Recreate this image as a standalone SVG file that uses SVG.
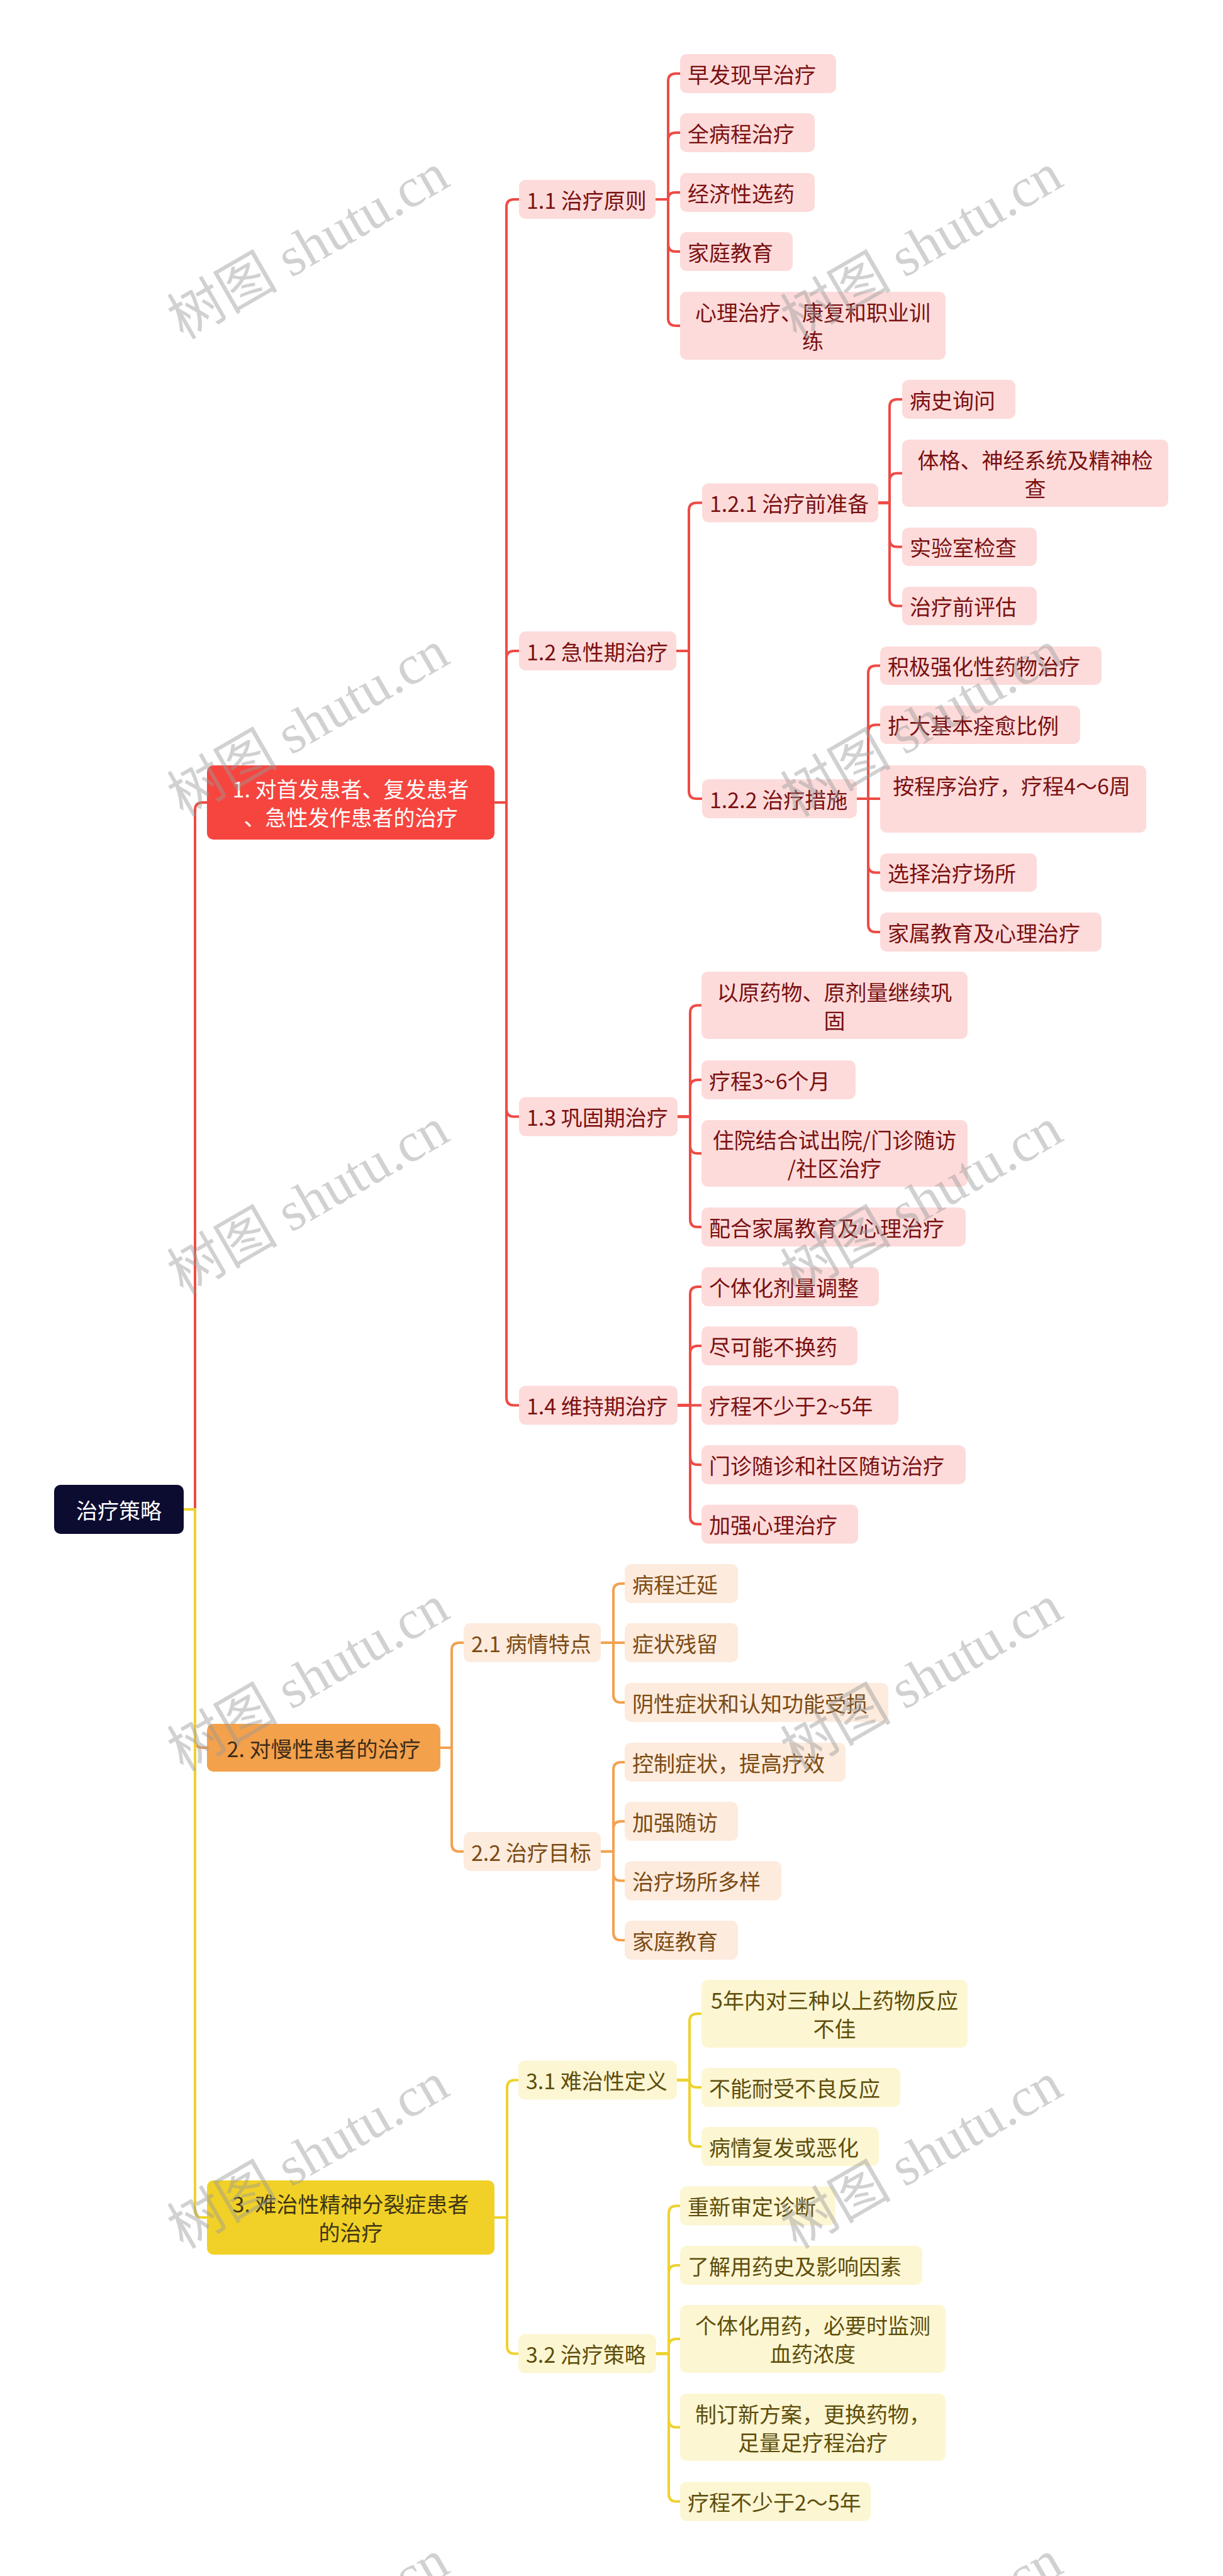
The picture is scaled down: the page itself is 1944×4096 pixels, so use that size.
<svg xmlns="http://www.w3.org/2000/svg" width="1944" height="4096" viewBox="0 0 1944 4096">
<style>
text{font-family:"Noto Sans CJK SC","Noto Sans",sans-serif;font-size:34px;dominant-baseline:central}
.c{text-anchor:middle}
.rl{fill:none;stroke:#EE4B45;stroke-width:4}
.ol{fill:none;stroke:#F3A14F;stroke-width:4}
.yl{fill:none;stroke:#EED22E;stroke-width:4}
.rb{fill:#FDDBDB}
.ob{fill:#FDEBDD}
.yb{fill:#FCF6D3}
.rt{fill:#7A1010}
.ot{fill:#7B4A14}
.yt{fill:#5E4E0C}
.wm{font-family:"Liberation Serif","Noto Sans CJK SC",serif;font-size:88px;fill:#9a9a9a;fill-opacity:0.45;text-anchor:middle}
</style>
<rect width="1944" height="4096" fill="#ffffff"/>
<g id="connectors">
<path class="rl" d="M292 2400H310V1288Q310 1276 322 1276H329"/>
<path class="ol" d="M292 2400H310V2767Q310 2779 322 2779H329"/>
<path class="yl" d="M292 2400H310V3514Q310 3526 322 3526H329"/>
<path class="rl" d="M786 1276H805V329Q805 317 817 317H825"/>
<path class="rl" d="M786 1276H805V1047Q805 1035 817 1035H825"/>
<path class="rl" d="M786 1276H805V1763.5Q805 1775.5 817 1775.5H825"/>
<path class="rl" d="M786 1276H805V2222.5Q805 2234.5 817 2234.5H825"/>
<path class="rl" d="M1042 317H1062V129Q1062 117 1074 117H1081"/>
<path class="rl" d="M1042 317H1062V223Q1062 211 1074 211H1081"/>
<path class="rl" d="M1042 317H1062Q1062 306 1073 306H1081"/>
<path class="rl" d="M1042 317H1062V388Q1062 400 1074 400H1081"/>
<path class="rl" d="M1042 317H1062V506Q1062 518 1074 518H1081"/>
<path class="rl" d="M1075 1035H1095V811.5Q1095 799.5 1107 799.5H1116"/>
<path class="rl" d="M1075 1035H1095V1258Q1095 1270 1107 1270H1116"/>
<path class="rl" d="M1396 799.5H1414V647Q1414 635 1426 635H1434"/>
<path class="rl" d="M1396 799.5H1414V764.5Q1414 752.5 1426 752.5H1434"/>
<path class="rl" d="M1396 799.5H1414V857.5Q1414 869.5 1426 869.5H1434"/>
<path class="rl" d="M1396 799.5H1414V951.5Q1414 963.5 1426 963.5H1434"/>
<path class="rl" d="M1362 1270H1380V1070.5Q1380 1058.5 1392 1058.5H1399"/>
<path class="rl" d="M1362 1270H1380V1164.5Q1380 1152.5 1392 1152.5H1399"/>
<path class="rl" d="M1362 1270H1399"/>
<path class="rl" d="M1362 1270H1380V1375.5Q1380 1387.5 1392 1387.5H1399"/>
<path class="rl" d="M1362 1270H1380V1470Q1380 1482 1392 1482H1399"/>
<path class="rl" d="M1077 1775.5H1097V1610.5Q1097 1598.5 1109 1598.5H1115"/>
<path class="rl" d="M1077 1775.5H1097V1729Q1097 1717 1109 1717H1115"/>
<path class="rl" d="M1077 1775.5H1097V1822Q1097 1834 1109 1834H1115"/>
<path class="rl" d="M1077 1775.5H1097V1939Q1097 1951 1109 1951H1115"/>
<path class="rl" d="M1077 2234.5H1097V2058Q1097 2046 1109 2046H1115"/>
<path class="rl" d="M1077 2234.5H1097V2152Q1097 2140 1109 2140H1115"/>
<path class="rl" d="M1077 2234.5H1115"/>
<path class="rl" d="M1077 2234.5H1097V2317Q1097 2329 1109 2329H1115"/>
<path class="rl" d="M1077 2234.5H1097V2411.5Q1097 2423.5 1109 2423.5H1115"/>
<path class="ol" d="M700 2779H718V2624Q718 2612 730 2612H737"/>
<path class="ol" d="M700 2779H718V2932Q718 2944 730 2944H737"/>
<path class="ol" d="M955 2612H975V2530Q975 2518 987 2518H993"/>
<path class="ol" d="M955 2612H993"/>
<path class="ol" d="M955 2612H975V2695Q975 2707 987 2707H993"/>
<path class="ol" d="M955 2944H975V2814Q975 2802 987 2802H993"/>
<path class="ol" d="M955 2944H975V2908Q975 2896 987 2896H993"/>
<path class="ol" d="M955 2944H975V2978.5Q975 2990.5 987 2990.5H993"/>
<path class="ol" d="M955 2944H975V3073Q975 3085 987 3085H993"/>
<path class="yl" d="M786 3526H806V3319.5Q806 3307.5 818 3307.5H824"/>
<path class="yl" d="M786 3526H806V3730.5Q806 3742.5 818 3742.5H824"/>
<path class="yl" d="M1076 3307.5H1096V3214Q1096 3202 1108 3202H1115"/>
<path class="yl" d="M1076 3307.5H1096Q1096 3319 1107.5 3319H1115"/>
<path class="yl" d="M1076 3307.5H1096V3401Q1096 3413 1108 3413H1115"/>
<path class="yl" d="M1043 3742.5H1063V3519.5Q1063 3507.5 1075 3507.5H1081"/>
<path class="yl" d="M1043 3742.5H1063V3614Q1063 3602 1075 3602H1081"/>
<path class="yl" d="M1043 3742.5H1063V3731Q1063 3719 1075 3719H1081"/>
<path class="yl" d="M1043 3742.5H1063V3847.5Q1063 3859.5 1075 3859.5H1081"/>
<path class="yl" d="M1043 3742.5H1063V3965.5Q1063 3977.5 1075 3977.5H1081"/>
</g>
<g id="root"><rect x="86" y="2361" width="206" height="78" rx="10" fill="#0C0B30"/><text class="c" x="189" y="2400" fill="#ffffff">治疗策略</text></g>
<g id="n1"><rect x="329" y="1217" width="457" height="118" rx="10" fill="#F6453F"/><text class="c" x="557.5" y="1253.5" fill="#ffffff">1. 对首发患者、复发患者</text><text class="c" x="557.5" y="1298.5" fill="#ffffff">、急性发作患者的治疗</text></g>
<g id="n2"><rect x="329" y="2741" width="371" height="76" rx="10" fill="#F4A14C"/><text class="c" x="514.5" y="2779" fill="#3d2c18">2. 对慢性患者的治疗</text></g>
<g id="n3"><rect x="329" y="3467" width="457" height="118" rx="10" fill="#F1D127"/><text class="c" x="557.5" y="3503.5" fill="#3d3513">3. 难治性精神分裂症患者</text><text class="c" x="557.5" y="3548.5" fill="#3d3513">的治疗</text></g>
<g id="n1_1"><rect class="rb" x="825" y="286" width="217" height="62" rx="10"/><text class="rt" x="837" y="317">1.1 治疗原则</text></g>
<g id="n1_2"><rect class="rb" x="825" y="1004" width="250" height="62" rx="10"/><text class="rt" x="837" y="1035">1.2 急性期治疗</text></g>
<g id="n1_3"><rect class="rb" x="825" y="1744.5" width="252" height="62" rx="10"/><text class="rt" x="837" y="1775.5">1.3 巩固期治疗</text></g>
<g id="n1_4"><rect class="rb" x="825" y="2203.5" width="252" height="62" rx="10"/><text class="rt" x="837" y="2234.5">1.4 维持期治疗</text></g>
<g id="n1_1_1"><rect class="rb" x="1081" y="86" width="248" height="62" rx="10"/><text class="rt" x="1093" y="117">早发现早治疗</text></g>
<g id="n1_1_2"><rect class="rb" x="1081" y="180" width="214" height="62" rx="10"/><text class="rt" x="1093" y="211">全病程治疗</text></g>
<g id="n1_1_3"><rect class="rb" x="1081" y="275" width="214" height="62" rx="10"/><text class="rt" x="1093" y="306">经济性选药</text></g>
<g id="n1_1_4"><rect class="rb" x="1081" y="369" width="179" height="62" rx="10"/><text class="rt" x="1093" y="400">家庭教育</text></g>
<g id="n1_1_5"><rect class="rb" x="1081" y="464" width="422" height="108" rx="10"/><text class="rt c" x="1292" y="495.5">心理治疗、康复和职业训</text><text class="rt c" x="1292" y="540.5">练</text></g>
<g id="n1_2_1"><rect class="rb" x="1116" y="768.5" width="280" height="62" rx="10"/><text class="rt" x="1128" y="799.5">1.2.1 治疗前准备</text></g>
<g id="n1_2_2"><rect class="rb" x="1116" y="1239" width="246" height="62" rx="10"/><text class="rt" x="1128" y="1270">1.2.2 治疗措施</text></g>
<g id="n1_2_1_1"><rect class="rb" x="1434" y="604" width="180" height="62" rx="10"/><text class="rt" x="1446" y="635">病史询问</text></g>
<g id="n1_2_1_2"><rect class="rb" x="1434" y="699" width="423" height="107" rx="10"/><text class="rt c" x="1645.5" y="730">体格、神经系统及精神检</text><text class="rt c" x="1645.5" y="775">查</text></g>
<g id="n1_2_1_3"><rect class="rb" x="1434" y="839" width="214" height="61" rx="10"/><text class="rt" x="1446" y="869.5">实验室检查</text></g>
<g id="n1_2_1_4"><rect class="rb" x="1434" y="933" width="214" height="61" rx="10"/><text class="rt" x="1446" y="963.5">治疗前评估</text></g>
<g id="n1_2_2_1"><rect class="rb" x="1399" y="1028" width="352" height="61" rx="10"/><text class="rt" x="1411" y="1058.5">积极强化性药物治疗</text></g>
<g id="n1_2_2_2"><rect class="rb" x="1399" y="1122" width="318" height="61" rx="10"/><text class="rt" x="1411" y="1152.5">扩大基本痊愈比例</text></g>
<g id="n1_2_2_3"><rect class="rb" x="1399" y="1217" width="423" height="107" rx="10"/><text class="rt c" x="1608" y="1248">按程序治疗，疗程4～6周</text></g>
<g id="n1_2_2_4"><rect class="rb" x="1399" y="1357" width="249" height="61" rx="10"/><text class="rt" x="1411" y="1387.5">选择治疗场所</text></g>
<g id="n1_2_2_5"><rect class="rb" x="1399" y="1451" width="352" height="62" rx="10"/><text class="rt" x="1411" y="1482">家属教育及心理治疗</text></g>
<g id="n1_3_1"><rect class="rb" x="1115" y="1545" width="423" height="107" rx="10"/><text class="rt c" x="1326.5" y="1576">以原药物、原剂量继续巩</text><text class="rt c" x="1326.5" y="1621">固</text></g>
<g id="n1_3_2"><rect class="rb" x="1115" y="1686" width="245" height="62" rx="10"/><text class="rt" x="1127" y="1717">疗程3~6个月</text></g>
<g id="n1_3_3"><rect class="rb" x="1115" y="1781" width="423" height="106" rx="10"/><text class="rt c" x="1326.5" y="1811.5">住院结合试出院/门诊随访</text><text class="rt c" x="1326.5" y="1856.5">/社区治疗</text></g>
<g id="n1_3_4"><rect class="rb" x="1115" y="1920" width="420" height="62" rx="10"/><text class="rt" x="1127" y="1951">配合家属教育及心理治疗</text></g>
<g id="n1_4_1"><rect class="rb" x="1115" y="2015" width="282" height="62" rx="10"/><text class="rt" x="1127" y="2046">个体化剂量调整</text></g>
<g id="n1_4_2"><rect class="rb" x="1115" y="2109" width="248" height="62" rx="10"/><text class="rt" x="1127" y="2140">尽可能不换药</text></g>
<g id="n1_4_3"><rect class="rb" x="1115" y="2203.5" width="313" height="62" rx="10"/><text class="rt" x="1127" y="2234.5">疗程不少于2~5年</text></g>
<g id="n1_4_4"><rect class="rb" x="1115" y="2298" width="420" height="62" rx="10"/><text class="rt" x="1127" y="2329">门诊随诊和社区随访治疗</text></g>
<g id="n1_4_5"><rect class="rb" x="1115" y="2392.5" width="249" height="62" rx="10"/><text class="rt" x="1127" y="2423.5">加强心理治疗</text></g>
<g id="n2_1"><rect class="ob" x="737" y="2581" width="218" height="62" rx="10"/><text class="ot" x="749" y="2612">2.1 病情特点</text></g>
<g id="n2_2"><rect class="ob" x="737" y="2913" width="218" height="62" rx="10"/><text class="ot" x="749" y="2944">2.2 治疗目标</text></g>
<g id="n2_1_1"><rect class="ob" x="993" y="2487" width="180" height="62" rx="10"/><text class="ot" x="1005" y="2518">病程迁延</text></g>
<g id="n2_1_2"><rect class="ob" x="993" y="2581" width="180" height="62" rx="10"/><text class="ot" x="1005" y="2612">症状残留</text></g>
<g id="n2_1_3"><rect class="ob" x="993" y="2676" width="419" height="62" rx="10"/><text class="ot" x="1005" y="2707">阴性症状和认知功能受损</text></g>
<g id="n2_2_1"><rect class="ob" x="993" y="2771" width="351" height="62" rx="10"/><text class="ot" x="1005" y="2802">控制症状，提高疗效</text></g>
<g id="n2_2_2"><rect class="ob" x="993" y="2865" width="180" height="62" rx="10"/><text class="ot" x="1005" y="2896">加强随访</text></g>
<g id="n2_2_3"><rect class="ob" x="993" y="2959.5" width="249" height="62" rx="10"/><text class="ot" x="1005" y="2990.5">治疗场所多样</text></g>
<g id="n2_2_4"><rect class="ob" x="993" y="3054" width="180" height="62" rx="10"/><text class="ot" x="1005" y="3085">家庭教育</text></g>
<g id="n3_1"><rect class="yb" x="824" y="3276.5" width="252" height="62" rx="10"/><text class="yt" x="836" y="3307.5">3.1 难治性定义</text></g>
<g id="n3_2"><rect class="yb" x="824" y="3711.5" width="219" height="62" rx="10"/><text class="yt" x="836" y="3742.5">3.2 治疗策略</text></g>
<g id="n3_1_1"><rect class="yb" x="1115" y="3148" width="423" height="108" rx="10"/><text class="yt c" x="1326.5" y="3179.5">5年内对三种以上药物反应</text><text class="yt c" x="1326.5" y="3224.5">不佳</text></g>
<g id="n3_1_2"><rect class="yb" x="1115" y="3288" width="316" height="62" rx="10"/><text class="yt" x="1127" y="3319">不能耐受不良反应</text></g>
<g id="n3_1_3"><rect class="yb" x="1115" y="3382" width="282" height="62" rx="10"/><text class="yt" x="1127" y="3413">病情复发或恶化</text></g>
<g id="n3_2_1"><rect class="yb" x="1081" y="3476.5" width="247" height="62" rx="10"/><text class="yt" x="1093" y="3507.5">重新审定诊断</text></g>
<g id="n3_2_2"><rect class="yb" x="1081" y="3571" width="385" height="62" rx="10"/><text class="yt" x="1093" y="3602">了解用药史及影响因素</text></g>
<g id="n3_2_3"><rect class="yb" x="1081" y="3665" width="422" height="108" rx="10"/><text class="yt c" x="1292" y="3696.5">个体化用药，必要时监测</text><text class="yt c" x="1292" y="3741.5">血药浓度</text></g>
<g id="n3_2_4"><rect class="yb" x="1081" y="3806" width="422" height="107" rx="10"/><text class="yt c" x="1292" y="3837">制订新方案，更换药物，</text><text class="yt c" x="1292" y="3882">足量足疗程治疗</text></g>
<g id="n3_2_5"><rect class="yb" x="1081" y="3946.5" width="303" height="62" rx="10"/><text class="yt" x="1093" y="3977.5">疗程不少于2～5年</text></g>
<g id="watermarks">
<text class="wm" transform="translate(490 392) rotate(-30)">树图 shutu.cn</text>
<text class="wm" transform="translate(1465 392) rotate(-30)">树图 shutu.cn</text>
<text class="wm" transform="translate(490 1151) rotate(-30)">树图 shutu.cn</text>
<text class="wm" transform="translate(1465 1151) rotate(-30)">树图 shutu.cn</text>
<text class="wm" transform="translate(490 1910) rotate(-30)">树图 shutu.cn</text>
<text class="wm" transform="translate(1465 1910) rotate(-30)">树图 shutu.cn</text>
<text class="wm" transform="translate(490 2669) rotate(-30)">树图 shutu.cn</text>
<text class="wm" transform="translate(1465 2669) rotate(-30)">树图 shutu.cn</text>
<text class="wm" transform="translate(490 3428) rotate(-30)">树图 shutu.cn</text>
<text class="wm" transform="translate(1465 3428) rotate(-30)">树图 shutu.cn</text>
<text class="wm" transform="translate(490 4187) rotate(-30)">树图 shutu.cn</text>
<text class="wm" transform="translate(1465 4187) rotate(-30)">树图 shutu.cn</text>
</g>
</svg>
